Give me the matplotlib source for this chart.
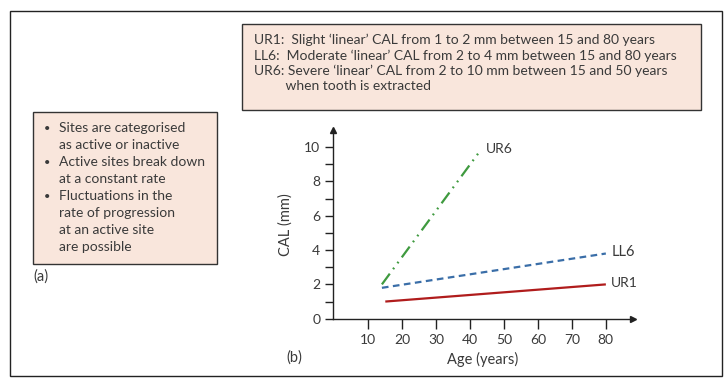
import matplotlib.pyplot as plt
from matplotlib.patches import Rectangle

plt.rcParams['font.family'] = ['Lato', 'DejaVu Sans']

# data
ur1_age = [15, 80]
ur1_cal = [1.0, 2.0]
ll6_age = [14, 80]
ll6_cal = [1.8, 3.8]
ur6_age = [14, 43]
ur6_cal = [2.0, 9.8]

x_ticks = [10, 20, 30, 40, 50, 60, 70, 80]
y_ticks = [0, 2, 4, 6, 8, 10]
y_minor = [1, 3, 5, 7, 9]

top_lines = [
    "UR1:  Slight \u2018linear\u2019 CAL from 1 to 2 mm between 15 and 80 years",
    "LL6:  Moderate \u2018linear\u2019 CAL from 2 to 4 mm between 15 and 80 years",
    "UR6: Severe \u2018linear\u2019 CAL from 2 to 10 mm between 15 and 50 years",
    "         when tooth is extracted",
]
bullets = [
    ("\u2022", "Sites are categorised"),
    ("", "as active or inactive"),
    ("\u2022", "Active sites break down"),
    ("", "at a constant rate"),
    ("\u2022", "Fluctuations in the"),
    ("", "rate of progression"),
    ("", "at an active site"),
    ("", "are possible"),
]

txt = '#3a3a3a'
fill = '#f9e6dc'
W, H = 726, 383

fig = plt.figure(figsize=(W / 100, H / 100), dpi=100)

# background layer in pixel coordinates for frames and boxes
bg = fig.add_axes([0, 0, 1, 1])
bg.set_xlim(0, W)
bg.set_ylim(H, 0)
bg.axis('off')
bg.add_patch(Rectangle((10, 11), 712, 365, fill=False, ec='#222222', lw=1.0))
bg.add_patch(Rectangle((242, 24), 459, 86, fc=fill, ec='#333333', lw=1.0))
bg.add_patch(Rectangle((33, 112), 184, 152, fc=fill, ec='#333333', lw=1.0))

for i, line in enumerate(top_lines):
    bg.text(254, 40 + i * 15.4, line, fontsize=10, color=txt, va='center', ha='left')

for i, (b, line) in enumerate(bullets):
    y = 128 + i * 17
    if b:
        bg.text(47, y, b, fontsize=8, color=txt, va='center', ha='center')
    bg.text(59, y, line, fontsize=10, color=txt, va='center', ha='left')

bg.text(33, 277, "(a)", fontsize=10.5, color=txt, va='center', ha='left')
bg.text(286, 358, "(b)", fontsize=10.5, color=txt, va='center', ha='left')

# the chart
ax = fig.add_axes([332.7 / W, (H - 318.7) / H, (633 - 332.7) / W, (318.7 - 130) / H])
ax.patch.set_alpha(0)
ax.plot(ur1_age, ur1_cal, color='#b01c1c', lw=1.6, solid_capstyle='butt')
ax.plot(ll6_age, ll6_cal, color='#3a6ea8', lw=1.6, dashes=(3, 2))
ax.plot(ur6_age, ur6_cal, color='#3f9a3f', lw=1.6, dashes=(6, 2.5, 0.8, 2.5, 0.8, 2.5))

ax.text(ur6_age[-1] + 1.5, ur6_cal[-1] + 0.1, "UR6", fontsize=10, color=txt, va='center')
ax.text(ll6_age[-1] + 1.8, ll6_cal[-1] + 0.1, "LL6", fontsize=10.5, color=txt, va='center')
ax.text(ur1_age[-1] + 1.5, ur1_cal[-1] + 0.1, "UR1", fontsize=10, color=txt, va='center')

ax.set_xlim(-0.5, 88)
ax.set_ylim(0, 11)
ax.spines['top'].set_visible(False)
ax.spines['right'].set_visible(False)
for s in ('left', 'bottom'):
    ax.spines[s].set_color('#222222')
    ax.spines[s].set_linewidth(1.0)
ax.plot(1, 0, '>', color='#222222', ms=5, transform=ax.transAxes, clip_on=False)
ax.plot(0, 1, '^', color='#222222', ms=5, transform=ax.transAxes, clip_on=False)

ax.set_xticks(x_ticks)
ax.set_yticks(y_ticks)
ax.set_yticks(y_minor, minor=True)
ax.tick_params(axis='both', which='both', direction='out', color='#222222',
               labelsize=10, labelcolor=txt, width=1.0)
ax.tick_params(axis='y', which='both', length=6, pad=3)
ax.tick_params(axis='x', length=7, pad=4)

ax.set_xlabel("Age (years)", fontsize=10.5, color=txt, labelpad=4)
ax.set_ylabel("CAL (mm)", fontsize=10.5, color=txt, labelpad=8)

fig.savefig('out.png', dpi=100)
